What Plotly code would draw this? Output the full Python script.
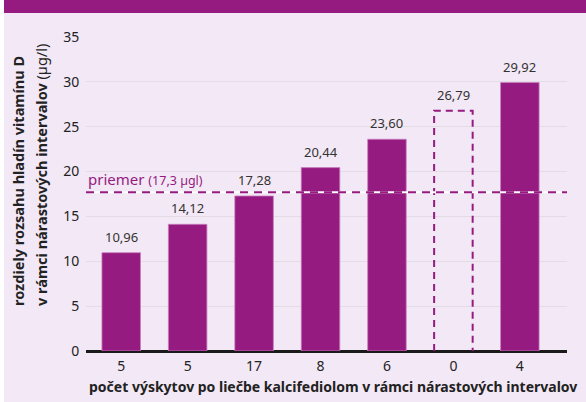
import plotly.graph_objects as go

counts = ["5", "5", "17", "8", "6", "0", "4"]
values = [10.96, 14.12, 17.28, 20.44, 23.60, 26.79, 29.92]
labels = ["10,96", "14,12", "17,28", "20,44", "23,60", "26,79", "29,92"]
empty_index = 5          # interval with 0 occurrences (drawn as outline only)
avg_value = 17.7         # position of the average line as drawn
avg_label_main = "priemer"
avg_label_sub = "(17,3 µgl)"
y_ticks = [0, 5, 10, 15, 20, 25, 30, 35]

PURPLE = "#951b81"
BG = "#f3e8f5"
FONT = "Noto Sans"
BAR_W = 0.58

W, H = 586, 402
L, R, T, B = 86, 19, 37, 51
pw, ph = W - L - R, H - T - B

def px_x(p):
    return (p - L) / pw

def px_y(p):
    return (H - B - p) / ph

xs = list(range(len(values)))
filled_x = [x for x in xs if x != empty_index]
filled_y = [values[x] for x in xs if x != empty_index]

fig = go.Figure()
fig.add_trace(go.Bar(
    x=filled_x, y=filled_y, width=BAR_W,
    marker=dict(color=PURPLE, line=dict(color="#c97fbe", width=0.8)),
    hoverinfo="skip", showlegend=False,
))

shapes = []
# white strip on far left and purple band on top
shapes.append(dict(type="rect", xref="paper", yref="paper",
                   x0=px_x(-2), x1=px_x(4), y0=px_y(H + 2), y1=px_y(-2),
                   fillcolor="white", line=dict(width=0), layer="below"))
shapes.append(dict(type="rect", xref="paper", yref="paper",
                   x0=px_x(4), x1=px_x(W + 2), y0=px_y(13), y1=px_y(-2),
                   fillcolor=PURPLE, line=dict(width=0), layer="below"))
# dashed outline for the empty interval
ex0 = empty_index - BAR_W / 2
ex1 = empty_index + BAR_W / 2
ev = values[empty_index]
shapes.append(dict(type="path", xref="x", yref="y",
                   path=f"M {ex0},0 L {ex0},{ev} L {ex1},{ev} L {ex1},0",
                   line=dict(color=PURPLE, width=2, dash="7px,5px"), layer="above"))
# average line: white under purple dashes
shapes.append(dict(type="line", xref="paper", yref="y", x0=0, x1=1,
                   y0=avg_value, y1=avg_value,
                   line=dict(color="white", width=2), layer="above"))
shapes.append(dict(type="line", xref="paper", yref="y", x0=0, x1=1,
                   y0=avg_value, y1=avg_value,
                   line=dict(color=PURPLE, width=2, dash="8px,6px"), layer="above"))

annotations = []
for x, v, t in zip(xs, values, labels):
    annotations.append(dict(x=x, y=v, xref="x", yref="y", text=t,
                            showarrow=False, xanchor="center", yanchor="bottom", yshift=5,
                            font=dict(family=FONT, size=13, color="#333333")))
annotations.append(dict(x=0, y=avg_value, xref="paper", yref="y",
                        text=f"{avg_label_main} <span style='font-size:12.5px'>{avg_label_sub}</span>",
                        showarrow=False, xanchor="left", yanchor="bottom", yshift=1,
                        font=dict(family=FONT, size=15, color=PURPLE)))
annotations.append(dict(x=px_x(18), y=px_y(308), xref="paper", yref="paper",
                        text="<b>rozdiely rozsahu hladín vitamínu D</b>",
                        textangle=-90, showarrow=False, xanchor="center", yanchor="bottom",
                        font=dict(family=FONT, size=14.5, color="#222222")))
annotations.append(dict(x=px_x(41), y=px_y(308), xref="paper", yref="paper",
                        text="<b>v rámci nárastových intervalov</b> (µg/l)",
                        textangle=-90, showarrow=False, xanchor="center", yanchor="bottom",
                        font=dict(family=FONT, size=14.5, color="#222222")))
annotations.append(dict(x=px_x(333), y=px_y(386), xref="paper", yref="paper",
                        text="<b>počet výskytov po liečbe kalcifediolom v rámci nárastových intervalov</b>",
                        showarrow=False, xanchor="center", yanchor="middle",
                        font=dict(family=FONT, size=14, color="#222222")))

fig.update_layout(
    width=W, height=H,
    margin=dict(l=L, r=R, t=T, b=B, pad=0),
    paper_bgcolor=BG, plot_bgcolor=BG,
    font=dict(family=FONT, color="#222222"),
    shapes=shapes, annotations=annotations,
    bargap=0.4,
)
fig.update_xaxes(
    range=[-0.53, 6.71], tickvals=xs, ticktext=counts,
    showgrid=False, zeroline=False,
    showline=False, ticks="", ticklabelstandoff=5,
    tickfont=dict(family=FONT, size=14, color="#222222"),
)
fig.update_yaxes(
    range=[0, 35], tickvals=y_ticks,
    showgrid=True, gridcolor="#e3dce5", gridwidth=1,
    zeroline=True, zerolinecolor="#1a1a1a", zerolinewidth=2.5,
    showline=False, ticks="outside", ticklen=3, tickcolor="rgba(0,0,0,0)",
    tickfont=dict(family=FONT, size=14, color="#222222"),
)

fig.write_html(
    "out.html",
    config={"displayModeBar": False},
    post_script="document.body.style.margin='0';document.body.style.padding='0';"
                "document.body.style.overflow='hidden';"
                "document.documentElement.style.overflow='hidden';",
)
